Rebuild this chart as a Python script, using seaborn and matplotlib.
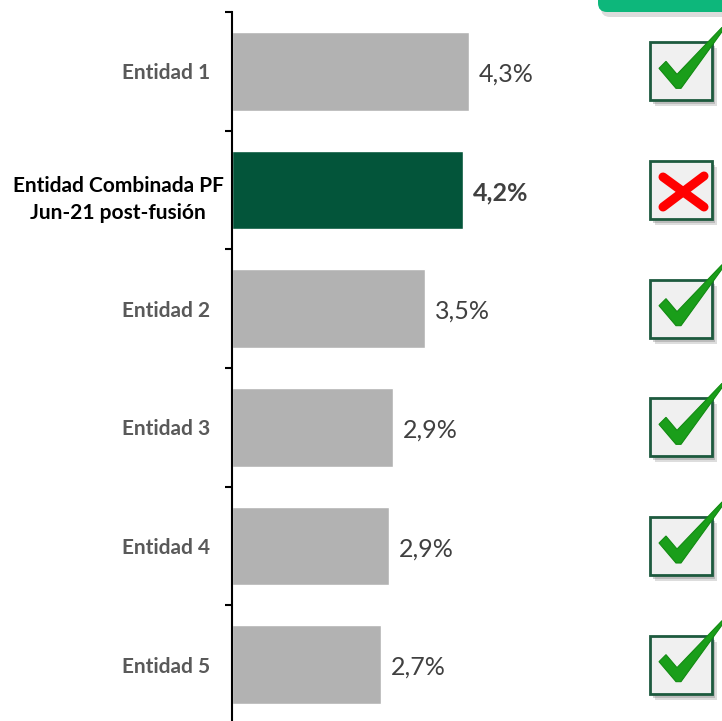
import numpy as np
import matplotlib
matplotlib.use("Agg")
import matplotlib.pyplot as plt
import seaborn as sns
from matplotlib.patches import Rectangle, Polygon, FancyBboxPatch
from matplotlib.lines import Line2D
from matplotlib.transforms import ScaledTranslation

# data
entities = [
    "Entidad 1",
    "Entidad Combinada PF\nJun-21 post-fusión",
    "Entidad 2",
    "Entidad 3",
    "Entidad 4",
    "Entidad 5",
]
ratios = [4.3, 4.2, 3.5, 2.92, 2.85, 2.7]
ratio_labels = ["4,3%", "4,2%", "3,5%", "2,9%", "2,9%", "2,7%"]
passes = [True, False, True, True, True, True]
highlight = entities[1]

GRAY = "#b2b2b2"
DARK_GREEN = "#03553a"
TEXT_GRAY = "#595959"
VALUE_GRAY = "#404040"

sns.set_theme(style="white")
plt.rcParams["font.family"] = ["Lato", "DejaVu Sans"]

fig = plt.figure(figsize=(7.22, 7.21), dpi=100)
W, H = 722, 721
ax = fig.add_axes([232 / W, -3 / H, 490 / W, 712 / H])

palette = {e: (DARK_GREEN if e == highlight else GRAY) for e in entities}
sns.barplot(x=ratios, y=entities, hue=entities, palette=palette, orient="h",
            width=0.665, legend=False, ax=ax, saturation=1)

ax.set_xlim(0, 490 / 55)
ax.set_ylim(len(entities) - 0.5, -0.5)
ax.set_xlabel("")
ax.set_ylabel("")
ax.set_xticks([])
for s in ["top", "right", "bottom"]:
    ax.spines[s].set_visible(False)
ax.spines["left"].set_color("black")
ax.spines["left"].set_linewidth(1.5)

# category boundary ticks
ax.set_yticks(np.arange(-0.5, len(entities), 1), minor=True)
ax.tick_params(axis="y", which="minor", left=True, length=5, width=1.5,
               color="black", direction="out")
ax.tick_params(axis="y", which="major", length=0, pad=16)

for lab in ax.get_yticklabels():
    lab.set_fontsize(15)
    lab.set_fontweight("bold")
    lab.set_multialignment("center")
    lab.set_linespacing(1.45)
    if lab.get_text() == highlight:
        lab.set_color("black")
        lab.set_transform(lab.get_transform() + ScaledTranslation(10 / 72, -3 / 72, fig.dpi_scale_trans))
    else:
        lab.set_color(TEXT_GRAY)

# value labels
for i, (v, t) in enumerate(zip(ratios, ratio_labels)):
    bold = entities[i] == highlight
    ax.annotate(t, xy=(v, i), xytext=(7.5, -2), textcoords="offset points",
                ha="left", va="center", fontsize=18,
                color=VALUE_GRAY, fontweight="bold" if bold else "normal")

# overlay in pixel coords for the status boxes
ov = fig.add_axes([0, 0, 1, 1], zorder=5)
ov.set_xlim(0, W)
ov.set_ylim(0, H)
ov.axis("off")
ov.patch.set_alpha(0)

# green tab at the top right
ov.add_patch(FancyBboxPatch((601, 704), 160, 30, boxstyle="round,pad=0,rounding_size=9",
                            facecolor="#9c9c9c", edgecolor="none", alpha=0.35))
ov.add_patch(FancyBboxPatch((598, 709), 160, 30, boxstyle="round,pad=0,rounding_size=9",
                            facecolor="#0db77b", edgecolor="none"))

bw, bh = 62, 58
bx = 650
for i, ok in enumerate(passes):
    yc = ax.transData.transform((0, i))[1]
    cx = bx + bw / 2
    # shadow
    ov.add_patch(Rectangle((bx + 5, yc - bh / 2 - 6), bw, bh, facecolor="#a0a0a0",
                           edgecolor="none", alpha=0.35))
    ov.add_patch(Rectangle((bx + 3, yc - bh / 2 - 4), bw, bh, facecolor="#8a8a8a",
                           edgecolor="none", alpha=0.4))
    ov.add_patch(Rectangle((bx, yc - bh / 2), bw, bh, facecolor="#f0f0f0",
                           edgecolor="#1d5a3e", linewidth=2))
    if ok:
        pts = np.array([(-22, 3), (-15, 10), (-4, -3), (41, 44), (42, 41),
                        (0, -17), (-5, -17)])
        ov.add_patch(Polygon(pts + [cx, yc], closed=True, facecolor="#1a9e1a",
                             edgecolor="#128a12", linewidth=0.8, zorder=3))
    else:
        for (x0, y0), (x1, y1) in [((-18, 13), (23, -17)), ((23, 14), (-18, -17))]:
            ov.add_line(Line2D([cx + x0, cx + x1], [yc + y0, yc + y1], color="#ff0000",
                               linewidth=6.5, solid_capstyle="round", zorder=3))

fig.savefig("out.png", dpi=100)
